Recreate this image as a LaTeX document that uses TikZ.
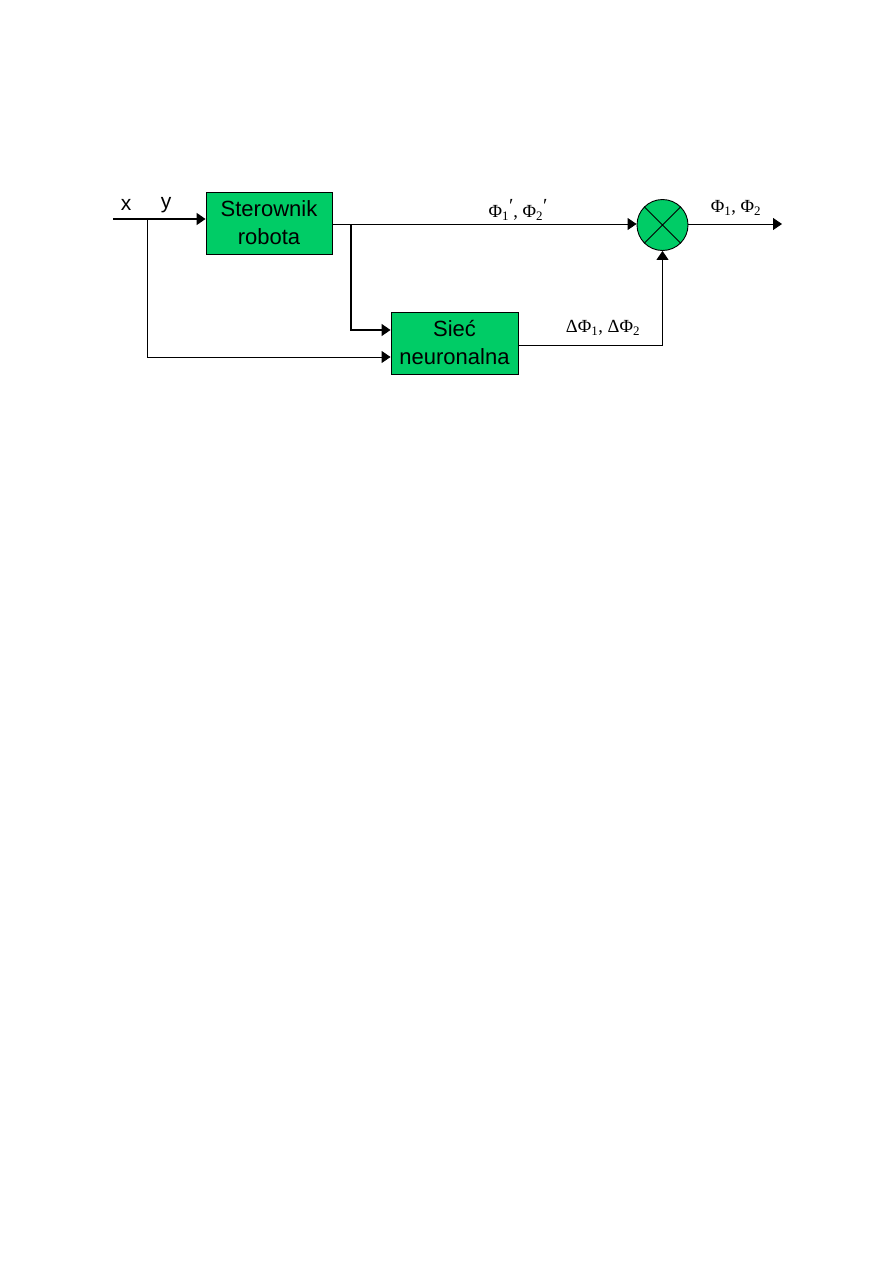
\documentclass[tikz,border=0pt]{standalone}
\usepackage{fontspec}
\setmainfont{Liberation Serif}
\newfontfamily\arialfont{Liberation Sans}
\usetikzlibrary{arrows.meta}
\definecolor{boxgreen}{RGB}{0,204,102}
\newcommand{\primemark}{\raisebox{0.55ex}{\fontsize{20}{20}\selectfont ′}}
\begin{document}
\begin{tikzpicture}[x=1pt,y=-1pt,
  blockbox/.style={draw=black,line width=0.9pt,fill=boxgreen,minimum width=126pt,minimum height=62pt,inner sep=0pt,align=center,font=\arialfont\fontsize{22}{28}\selectfont},
  conn/.style={line width=0.9pt,-{Triangle[length=9pt,width=12pt]}},
  lbl/.style={inner sep=0pt,font=\fontsize{18.5}{20}\selectfont},
  slbl/.style={inner sep=0pt,font=\arialfont\fontsize{21}{22}\selectfont}]
\useasboundingbox (0,0) rectangle (893,1263);
\fill[white] (0,0) rectangle (893,1263);
\node[blockbox] (ster) at (269,223) {Sterownik\\robota};
\node[blockbox,minimum width=127pt] (siec) at (454.5,343) {Sieć\\neuronalna};
\node[draw=black,line width=0.9pt,fill=boxgreen,circle,minimum size=51pt,inner sep=0pt] (sum) at (662.5,225) {};
\draw[line width=0.8pt] (sum.north west) -- (sum.south east) (sum.north east) -- (sum.south west);
\coordinate (in) at (113,219);
\coordinate (b1) at (147,219);
\coordinate (b2) at (351,224);
\coordinate (out) at (782,224);
\draw[conn,line width=1.7pt] (in) -- (ster.west |- in);
\draw[conn] (ster.east |- b2) -- (sum.west |- b2);
\draw[conn] (sum.east |- out) -- (out);
\draw[conn,line width=1.4pt] (b2) |- (siec.west |- 0,330);
\draw[conn] (b1) |- (siec.west |- 0,357);
\draw[conn] (siec.east |- 0,345) -| (sum.south);
\node[slbl] (lx) at (126,205) {x};
\node[slbl] (ly) at (166,205) {y};
\node[lbl] (l1) at (518,210) {Φ\textsubscript{1}\primemark, Φ\textsubscript{2}\primemark};
\node[lbl] (l2) at (736,208) {Φ\textsubscript{1}, Φ\textsubscript{2}};
\node[lbl] (l3) at (603,328) {ΔΦ\textsubscript{1}, ΔΦ\textsubscript{2}};
\end{tikzpicture}
\end{document}
